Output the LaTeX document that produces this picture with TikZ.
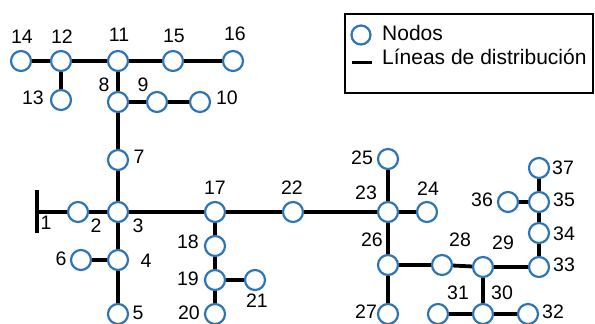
\documentclass[tikz,border=0pt]{standalone}
\usepackage{fontspec}
\setmainfont{Liberation Sans}
\definecolor{nblue}{RGB}{46,117,182}
\begin{document}
\begin{tikzpicture}[x=1pt,y=-1pt,
  nd/.style={circle,draw=nblue,fill=white,line width=2.2pt,minimum size=20pt,inner sep=0pt},
  ln/.style={line width=3.8pt,black},
  lb/.style={font=\fontsize{19.5}{23}\selectfont,inner sep=0pt,anchor=center},
  lg/.style={font=\fontsize{21}{25}\selectfont,inner sep=0pt,anchor=base west}]
\useasboundingbox (0,0) rectangle (595,324);
% nodes
\node[nd] (n14) at (21,61) {};
\node[nd] (n12) at (61,61) {};
\node[nd] (n11) at (118,61) {};
\node[nd] (n15) at (173,61) {};
\node[nd] (n16) at (233,61) {};
\node[nd] (n13) at (61,100) {};
\node[nd] (n8) at (118,102) {};
\node[nd] (n9) at (157,102) {};
\node[nd] (n10) at (200,102) {};
\node[nd] (n7) at (118,160) {};
\node[nd] (n2) at (78,212) {};
\node[nd] (n3) at (118,212) {};
\node[nd] (n17) at (215,212) {};
\node[nd] (n22) at (293,212) {};
\node[nd] (n4) at (118,260) {};
\node[nd] (n6) at (81,260) {};
\node[nd] (n5) at (118,314) {};
\node[nd] (n18) at (215,246) {};
\node[nd] (n19) at (215,280) {};
\node[nd] (n21) at (255,280) {};
\node[nd] (n20) at (215,314) {};
\node[nd] (n25) at (388,159) {};
\node[nd] (n37) at (539,168) {};
\node[nd] (n23) at (388,212) {};
\node[nd] (n24) at (427,212) {};
\node[nd] (n36) at (508,202) {};
\node[nd] (n35) at (539,202) {};
\node[nd] (n34) at (539,233) {};
\node[nd] (n33) at (539,267) {};
\node[nd] (n26) at (388,265) {};
\node[nd] (n28) at (442,265) {};
\node[nd] (n29) at (483,267) {};
\node[nd] (n30) at (483,314) {};
\node[nd] (n31) at (438,314) {};
\node[nd] (n32) at (528,314) {};
\node[nd] (n27) at (388,314) {};
% node 1 bar
\coordinate (b1t) at (37,190);
\coordinate (b1b) at (37,233);
\coordinate (b1) at (37,212);
\draw[line width=4pt] (b1t) -- (b1b);
% lines
\draw[ln] (b1) -- (n2);
\draw[ln] (n2) -- (n3);
\draw[ln] (n14) -- (n12);
\draw[ln] (n12) -- (n11);
\draw[ln] (n11) -- (n15);
\draw[ln] (n15) -- (n16);
\draw[ln] (n12) -- (n13);
\draw[ln] (n11) -- (n8);
\draw[ln] (n8) -- (n9);
\draw[ln] (n9) -- (n10);
\draw[ln] (n8) -- (n7);
\draw[ln] (n7) -- (n3);
\draw[ln] (n3) -- (n17);
\draw[ln] (n17) -- (n22);
\draw[ln] (n22) -- (n23);
\draw[ln] (n23) -- (n24);
\draw[ln] (n23) -- (n25);
\draw[ln] (n23) -- (n26);
\draw[ln] (n26) -- (n27);
\draw[ln] (n26) -- (n28);
\draw[ln] (n28) -- (n29);
\draw[ln] (n29) -- (n33);
\draw[ln] (n29) -- (n30);
\draw[ln] (n30) -- (n31);
\draw[ln] (n30) -- (n32);
\draw[ln] (n33) -- (n34);
\draw[ln] (n34) -- (n35);
\draw[ln] (n35) -- (n37);
\draw[ln] (n35) -- (n36);
\draw[ln] (n3) -- (n4);
\draw[ln] (n4) -- (n6);
\draw[ln] (n4) -- (n5);
\draw[ln] (n17) -- (n18);
\draw[ln] (n18) -- (n19);
\draw[ln] (n19) -- (n20);
\draw[ln] (n19) -- (n21);
% labels
\node[lb] (l14) at (22,37) {14};
\node[lb] (l12) at (62,37) {12};
\node[lb] (l11) at (119,35) {11};
\node[lb] (l15) at (174,36) {15};
\node[lb] (l16) at (235,34) {16};
\node[lb] (l13) at (33,98) {13};
\node[lb] (l8) at (104,85) {8};
\node[lb] (l9) at (143,85) {9};
\node[lb] (l10) at (227,98) {10};
\node[lb] (l7) at (139,157) {7};
\node[lb] (l1) at (46,223) {1};
\node[lb] (l2) at (96,226) {2};
\node[lb] (l3) at (138,226) {3};
\node[lb] (l17) at (215,188) {17};
\node[lb] (l22) at (292,188) {22};
\node[lb] (l6) at (61,259) {6};
\node[lb] (l4) at (146,261) {4};
\node[lb] (l5) at (138,313) {5};
\node[lb] (l18) at (188,242) {18};
\node[lb] (l19) at (188,279) {19};
\node[lb] (l21) at (257,301) {21};
\node[lb] (l20) at (189,313) {20};
\node[lb] (l25) at (362,158) {25};
\node[lb] (l23) at (366,193) {23};
\node[lb] (l24) at (428,189) {24};
\node[lb] (l37) at (563,168) {37};
\node[lb] (l36) at (482,200) {36};
\node[lb] (l35) at (564,200) {35};
\node[lb] (l34) at (564,234) {34};
\node[lb] (l33) at (564,265) {33};
\node[lb] (l26) at (372,240) {26};
\node[lb] (l28) at (460,240) {28};
\node[lb] (l29) at (503,243) {29};
\node[lb] (l30) at (502,293) {30};
\node[lb] (l31) at (458,293) {31};
\node[lb] (l32) at (553,312) {32};
\node[lb] (l27) at (366,312) {27};
% legend
\node[draw,line width=2pt,minimum width=248pt,minimum height=79pt,inner sep=0pt,anchor=north west] (leg) at (344,13) {};
\node[nd,minimum size=19pt] (legc) at (361,35) {};
\coordinate (legd1) at (352,62);
\coordinate (legd2) at (372,62);
\draw[line width=3pt] (legd1) -- (legd2);
\node[lg] (legt1) at (382,41) {Nodos};
\node[lg] (legt2) at (382,64) {Líneas de distribución};
\end{tikzpicture}
\end{document}
